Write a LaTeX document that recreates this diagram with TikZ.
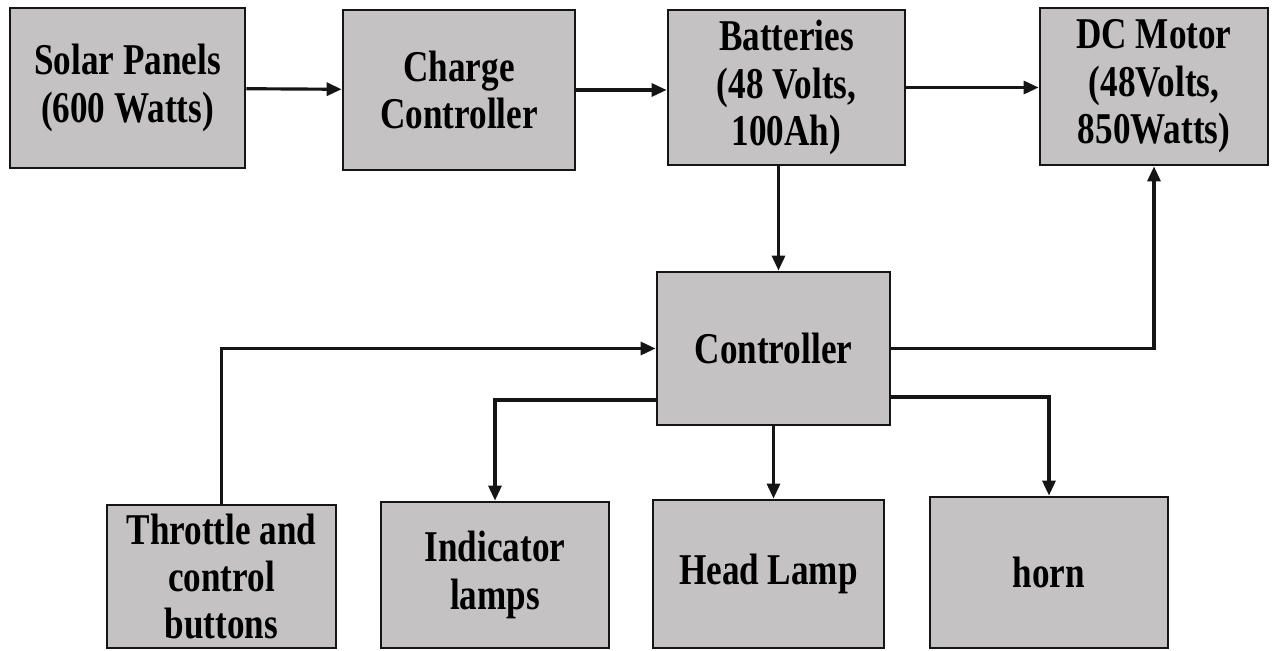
\documentclass[tikz,border=0pt]{standalone}
\usepackage{fontspec}
\setmainfont{Liberation Serif}
\newfontfamily\boxfont[FakeStretch=0.8]{Liberation Serif}
\usetikzlibrary{arrows.meta, positioning, calc}
\definecolor{boxgrey}{HTML}{C4C2C3}
\definecolor{inkline}{HTML}{151515}
\tikzset{
  block/.style={rectangle, draw=inkline, line width=1.6pt, fill=boxgrey,
    minimum width=4.64cm, minimum height=3.1cm, align=center,
    font=\boxfont\bfseries\fontsize{25}{27}\selectfont, inner sep=2pt},
  blockLow/.style={block, minimum height=2.96cm},
  arrow/.style={-{Triangle[length=3mm, width=2.6mm]}, line width=1.8pt, inkline},
}

\begin{document}
\begin{tikzpicture}[x=0.02cm, y=-0.02cm]
\useasboundingbox (0,0) rectangle (1282,651);
% top row
\node[block, minimum width=4.7cm, minimum height=3.2cm] (solar) at (127.5,88) {Solar Panels\\(600 Watts)};
\node[block, minimum height=3.2cm] (charge) at (459,90) {Charge\\Controller};
\node[block, minimum width=4.74cm] (batt) at (786.5,87.5) {Batteries\\(48 Volts,\\100Ah)};
\node[block, minimum width=4.56cm, minimum height=3.14cm] (motor) at (1154,86.5) {DC Motor\\(48Volts,\\850Watts)};
% middle
\node[block, minimum width=4.66cm, minimum height=3.06cm] (ctrl) at (773.5,348.5) {Controller};
% bottom row
\node[blockLow, minimum width=4.58cm, minimum height=2.86cm] (throttle) at (221.5,576.5) {Throttle and\\control\\buttons};
\node[blockLow, minimum width=4.56cm, minimum height=2.92cm] (lamps) at (495,575) {Indicator\\lamps};
\node[blockLow, minimum width=4.62cm] (head) at (768.5,574) {Head Lamp};
\node[blockLow, minimum width=4.76cm, minimum height=3.02cm] (horn) at (1049,572.5) {horn};

\draw[arrow] (solar) -- (charge);
\draw[arrow] (charge) -- (charge -| batt.west);
\draw[arrow] (batt) -- (batt -| motor.west);
\draw[arrow] ([xshift=-0.16cm]batt.south) -- ([xshift=-0.16cm]batt.south |- ctrl.north);
\draw[arrow] (ctrl.east) -| (motor.south);
\draw[arrow] (throttle.north) |- (ctrl.west);
\draw[arrow] ([yshift=-1.03cm]ctrl.west) -| (lamps.north);
\draw[arrow] (ctrl.south) -- (ctrl.south |- head.north);
\draw[arrow] ([yshift=-0.97cm]ctrl.east) -| (horn.north);
\end{tikzpicture}
\end{document}
